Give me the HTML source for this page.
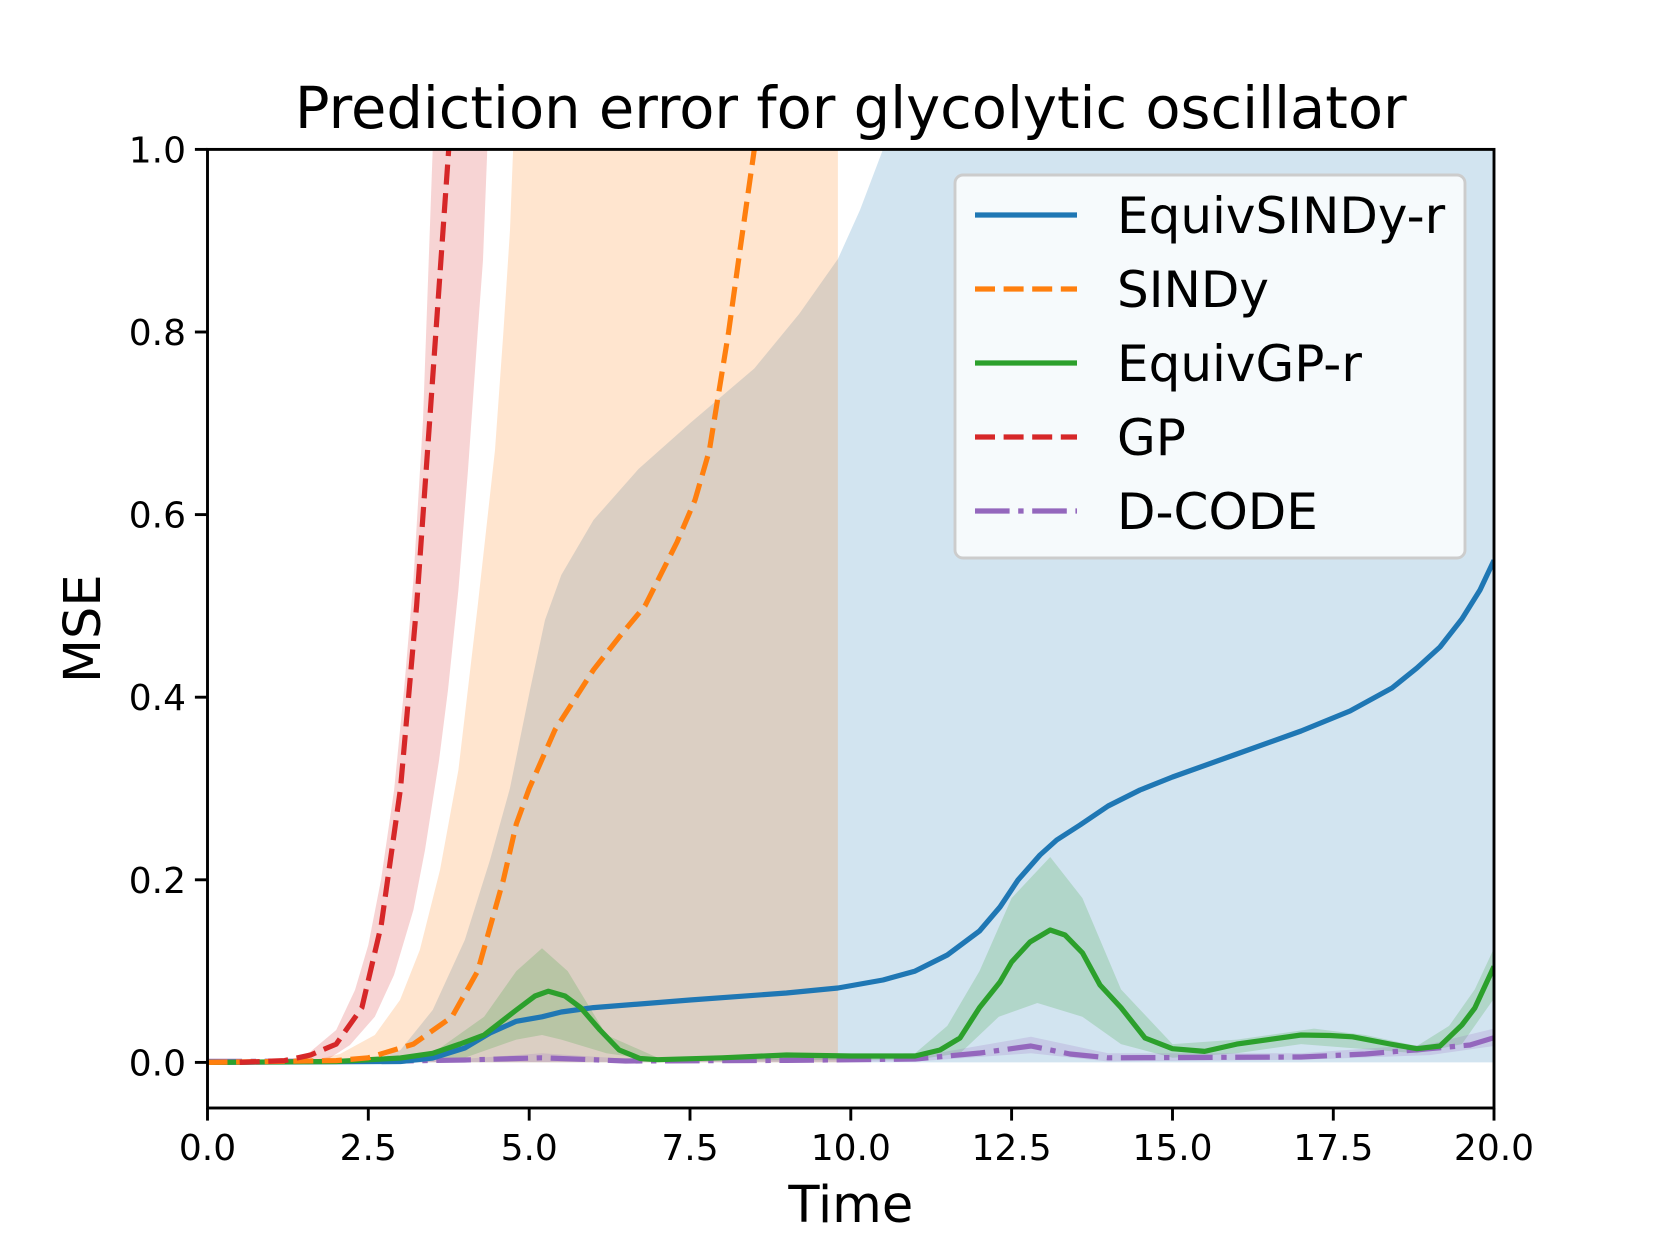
<!DOCTYPE html>
<html><head><meta charset="utf-8"><style>
html,body{margin:0;padding:0;background:#fff;}
svg{display:block;font-family:"DejaVu Sans","Liberation Sans",sans-serif;}
</style></head><body>
<svg width="1660" height="1245" viewBox="0 0 1660 1245" xmlns="http://www.w3.org/2000/svg">
<defs><clipPath id="c"><rect x="207.5" y="149.4" width="1286.5" height="958.6"/></clipPath></defs>
<rect width="1660" height="1245" fill="#fff"/>
<g clip-path="url(#c)">
<polygon fill="#1f77b4" fill-opacity="0.2" points="368.3,1062.4 400.5,1050 432.7,1010 464.8,940 490,860 509.9,788.5 530,690 545,620 561.3,575 593.5,520 638.5,469 690,423.3 754.3,368.5 799.3,313.7 837.9,259 860,210 883,149.4 1494,149.4 1494,1062.4"/>
<polygon fill="#ff7f0e" fill-opacity="0.2" points="304,1062.4 340,1054 374.8,1035 400,1000 419.8,950 440,870 458.4,770 477.7,605.9 495,450 503.4,332 510,230 513.1,149.4 837.9,149.4 837.9,1062.4"/>
<polygon fill="#d62728" fill-opacity="0.2" points="284.7,1062.4 310,1052 336.2,1030 355,990 368.3,945 381,880 394.1,790 404,690 413.4,580 423,420 432.7,149.4 487.3,149.4 483,260 477.7,332 468,470 458.4,590 448,690 439.1,760 425,850 413.4,910 394,975 374.8,1016.8 350,1045 323.3,1062.4"/>
<polygon fill="#2ca02c" fill-opacity="0.2" points="336.2,1062.4 432.7,1053.3 484.1,1016.8 516.3,971.1 542,948.3 567.7,971.1 606.4,1035 657.8,1057.8 915.1,1053.3 947.3,1025.9 979.5,971.1 1011.6,898.1 1050.2,857 1082.4,898.1 1121,989.4 1172.5,1044.1 1236.8,1039.6 1314,1028.6 1365.4,1035 1416.9,1046 1449.1,1025.9 1474.8,989.4 1494,948.3 1494,998.5 1461.9,1044.1 1416.9,1053.3 1301.1,1044.1 1236.8,1053.3 1172.5,1057.8 1121,1044.1 1082.4,1016.8 1037.4,1003 998.8,1016.8 960.2,1053.3 915.1,1059.7 657.8,1060.6 606.4,1053.3 561.3,1039.6 542,1035 516.3,1039.6 464.8,1057.8 336.2,1062.4"/>
<polygon fill="#9467bd" fill-opacity="0.2" points="207.5,1059.7 464.8,1058.7 542,1053.3 625.6,1058.7 915.1,1056.9 1030.9,1036.8 1108.1,1053.3 1301.1,1053.3 1429.8,1044.1 1494,1028.6 1494,1046 1429.8,1055.1 1301.1,1059.7 1108.1,1061.5 1030.9,1053.3 915.1,1061.5 207.5,1062.4"/>
<g fill="none" stroke-width="5.2" stroke-linejoin="round">
<polyline stroke="#9467bd" stroke-dasharray="34.6,8.6,5.4,8.6" points="207.5,1061.4 400.5,1061 464.8,1060 542,1057.8 625.6,1061 786.5,1060.4 915.1,1059 980,1053 1030.9,1046 1070,1054 1108.1,1057.8 1301.1,1057 1365.4,1054 1429.8,1048.7 1470,1045 1494,1037.7"/>
<polyline stroke="#1f77b4" points="207.5,1062.4 400.5,1061.5 432.7,1058 464.8,1048 490,1033 516.3,1021.3 542,1016.8 561.3,1012 593.5,1007.6 690,1000 786.5,993 837.9,988 883,980 915.1,971.1 947.3,955 979.5,931 1000,907 1018,880 1040,855 1056.7,840 1080,825 1108.1,806 1140,790 1172.5,777 1236.8,754 1301.1,731 1350,711 1392,688 1416.9,668 1440,647 1461.9,619 1480,590 1494,560.3"/>
<polyline stroke="#2ca02c" points="207.5,1062.4 336.2,1061.5 400.5,1058 432.7,1053.3 460,1044 484,1035 516.3,1010 535,996 548.4,991.2 565,996 580.6,1007.6 600,1030 619.2,1050 640,1058.5 657.8,1059.7 722.1,1057.8 786.5,1055 850.8,1056 915.1,1056 940,1050 960,1038 979.5,1007.6 1000,982 1011.6,962 1030,942 1050.2,930 1065,935 1082.4,952.8 1100,985 1121,1007.6 1145,1038 1172.5,1048.7 1204.6,1051.4 1236.8,1044.1 1301.1,1035 1330,1035.5 1352.6,1036.8 1390,1044 1416.9,1048.7 1440,1046 1461.9,1025 1474.8,1008 1494,966.5"/>
<polyline stroke="#ff7f0e" stroke-dasharray="20,8.6" points="207.5,1062.4 336.2,1060.6 368.3,1057.8 413.4,1044.1 452,1016.8 477.7,971.1 503.4,879.8 516.3,824 529.2,788.5 554.9,730 593.5,669.8 620,636 645,605.9 677.1,542 695,500 709.3,450.7 728.6,332 740,250 754.3,149.4 758,110"/>
<polyline stroke="#d62728" stroke-dasharray="20,8.6" points="239.7,1062.4 284.7,1060.6 310.4,1055.1 336.2,1044.1 361.9,1007.6 381.2,925.4 400.5,788.5 416.6,605.9 432.7,377.7 448.7,149.4 452,110"/>
</g>
</g>
<rect x="207.5" y="149.4" width="1286.5" height="958.6" fill="none" stroke="#000" stroke-width="2.9"/>
<g stroke="#000" stroke-width="2.9">
<line x1="207.5" y1="1108" x2="207.5" y2="1120.6"/><line x1="368.3" y1="1108" x2="368.3" y2="1120.6"/><line x1="529.2" y1="1108" x2="529.2" y2="1120.6"/><line x1="690" y1="1108" x2="690" y2="1120.6"/><line x1="850.8" y1="1108" x2="850.8" y2="1120.6"/><line x1="1011.6" y1="1108" x2="1011.6" y2="1120.6"/><line x1="1172.5" y1="1108" x2="1172.5" y2="1120.6"/><line x1="1333.3" y1="1108" x2="1333.3" y2="1120.6"/><line x1="1494" y1="1108" x2="1494" y2="1120.6"/>
<line x1="194.9" y1="1062.4" x2="207.5" y2="1062.4"/><line x1="194.9" y1="879.8" x2="207.5" y2="879.8"/><line x1="194.9" y1="697.2" x2="207.5" y2="697.2"/><line x1="194.9" y1="514.6" x2="207.5" y2="514.6"/><line x1="194.9" y1="332" x2="207.5" y2="332"/><line x1="194.9" y1="149.4" x2="207.5" y2="149.4"/>
</g>
<g font-size="36" fill="#000" text-anchor="middle">
<text x="207.5" y="1160">0.0</text><text x="368.3" y="1160">2.5</text><text x="529.2" y="1160">5.0</text><text x="690" y="1160">7.5</text><text x="850.8" y="1160">10.0</text><text x="1011.6" y="1160">12.5</text><text x="1172.5" y="1160">15.0</text><text x="1333.3" y="1160">17.5</text><text x="1494" y="1160">20.0</text>
</g>
<g font-size="36" fill="#000" text-anchor="end">
<text x="186" y="1075.4">0.0</text><text x="186" y="892.8">0.2</text><text x="186" y="710.2">0.4</text><text x="186" y="527.6">0.6</text><text x="186" y="345">0.8</text><text x="186" y="162.4">1.0</text>
</g>
<text x="850.8" y="1222" font-size="51" text-anchor="middle">Time</text>
<text transform="translate(100,628.7) rotate(-90)" font-size="51" text-anchor="middle">MSE</text>
<text x="850.8" y="128" font-size="57.5" text-anchor="middle">Prediction error for glycolytic oscillator</text>
<rect x="955" y="175" width="510" height="383" rx="8" fill="#fff" fill-opacity="0.8" stroke="#ccc" stroke-width="2.9"/>
<g stroke-width="5.2" fill="none">
<line x1="975" y1="215" x2="1077" y2="215" stroke="#1f77b4"/>
<line x1="975" y1="289" x2="1077" y2="289" stroke="#ff7f0e" stroke-dasharray="20,8.6"/>
<line x1="975" y1="363" x2="1077" y2="363" stroke="#2ca02c"/>
<line x1="975" y1="437" x2="1077" y2="437" stroke="#d62728" stroke-dasharray="20,8.6"/>
<line x1="975" y1="511" x2="1077" y2="511" stroke="#9467bd" stroke-dasharray="34.6,8.6,5.4,8.6"/>
</g>
<g font-size="50" fill="#000">
<text x="1117" y="233">EquivSINDy-r</text>
<text x="1117" y="307">SINDy</text>
<text x="1117" y="381">EquivGP-r</text>
<text x="1117" y="455">GP</text>
<text x="1117" y="529">D-CODE</text>
</g>
</svg>
</body></html>
